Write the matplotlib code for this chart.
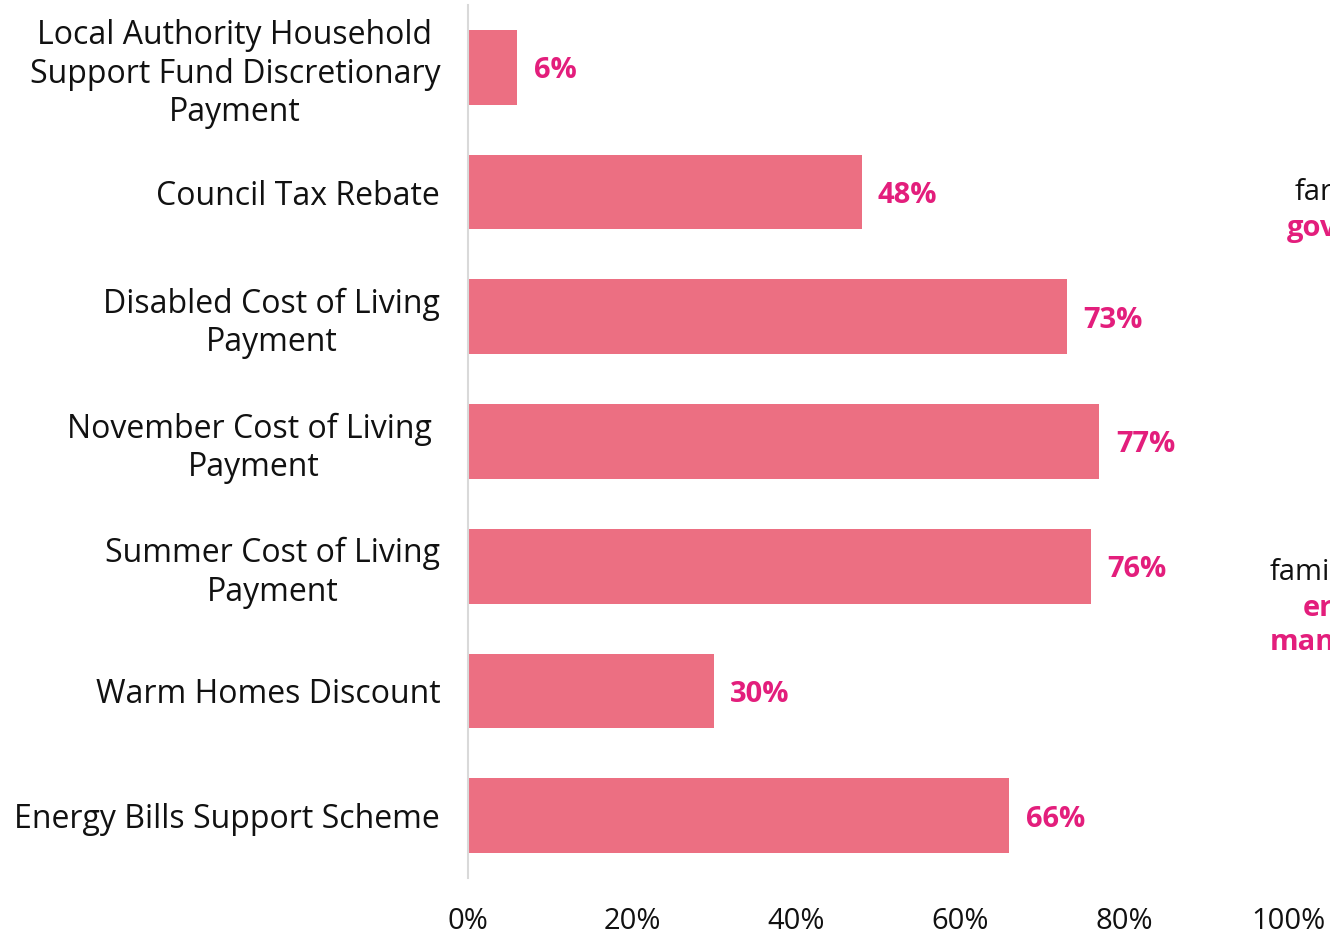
import matplotlib
matplotlib.use("Agg")
import matplotlib.pyplot as plt

categories = [
    "Local Authority Household\nSupport Fund Discretionary\nPayment",
    "Council Tax Rebate",
    "Disabled Cost of Living\nPayment",
    "November Cost of Living \nPayment",
    "Summer Cost of Living\nPayment",
    "Warm Homes Discount",
    "Energy Bills Support Scheme",
]
values = [6, 48, 73, 77, 76, 30, 66]
ticks = [0, 20, 40, 60, 80, 100]

bar_color = "#EC6F82"
label_color = "#E31E7C"
plt.rcParams['font.family'] = ['Open Sans', 'DejaVu Sans']

fig = plt.figure(figsize=(13.3, 9.34), dpi=100)
ax = fig.add_axes([468 / 1330, 1 - 878 / 934, 820 / 1330, 873 / 934])

pos = list(range(len(categories)))
ax.barh(pos, values, height=0.6, color=bar_color)
for p, v in zip(pos, values):
    ax.text(v + 2, p, f"{v}%", va="center_baseline", ha="left", color=label_color,
            fontsize=21, fontweight="bold")

ax.set_ylim(len(categories) - 0.5, -0.5)
ax.set_xlim(0, 100)
ax.set_yticks(pos)
ax.set_yticklabels(categories, fontsize=23, color="#111111",
                   ha="right", multialignment="center", linespacing=1.22)
ax.tick_params(axis="y", length=0, pad=20)
ax.set_xticks(ticks)
ax.set_xticklabels([f"{t}%" for t in ticks], fontsize=21, color="#111111")
ax.tick_params(axis="x", length=0, pad=21)

for s in ["top", "right", "bottom"]:
    ax.spines[s].set_visible(False)
ax.spines["left"].set_color("#D9D9D9")
ax.spines["left"].set_linewidth(1.5)

# cut-off text from the neighbouring box on the right (clipped in the original too)
fig.text(1295 / 1330, 1 - 193 / 934, "far", fontsize=21, color="#111111", va="center")
fig.text(1287 / 1330, 1 - 228 / 934, "gov", fontsize=21, color=label_color,
         fontweight="bold", va="center")
fig.text(1270 / 1330, 1 - 573 / 934, "fami", fontsize=21, color="#111111", va="center")
fig.text(1303 / 1330, 1 - 608 / 934, "er", fontsize=21, color=label_color,
         fontweight="bold", va="center")
fig.text(1270 / 1330, 1 - 643 / 934, "man", fontsize=21, color=label_color,
         fontweight="bold", va="center")

fig.savefig("out.png", dpi=100)
